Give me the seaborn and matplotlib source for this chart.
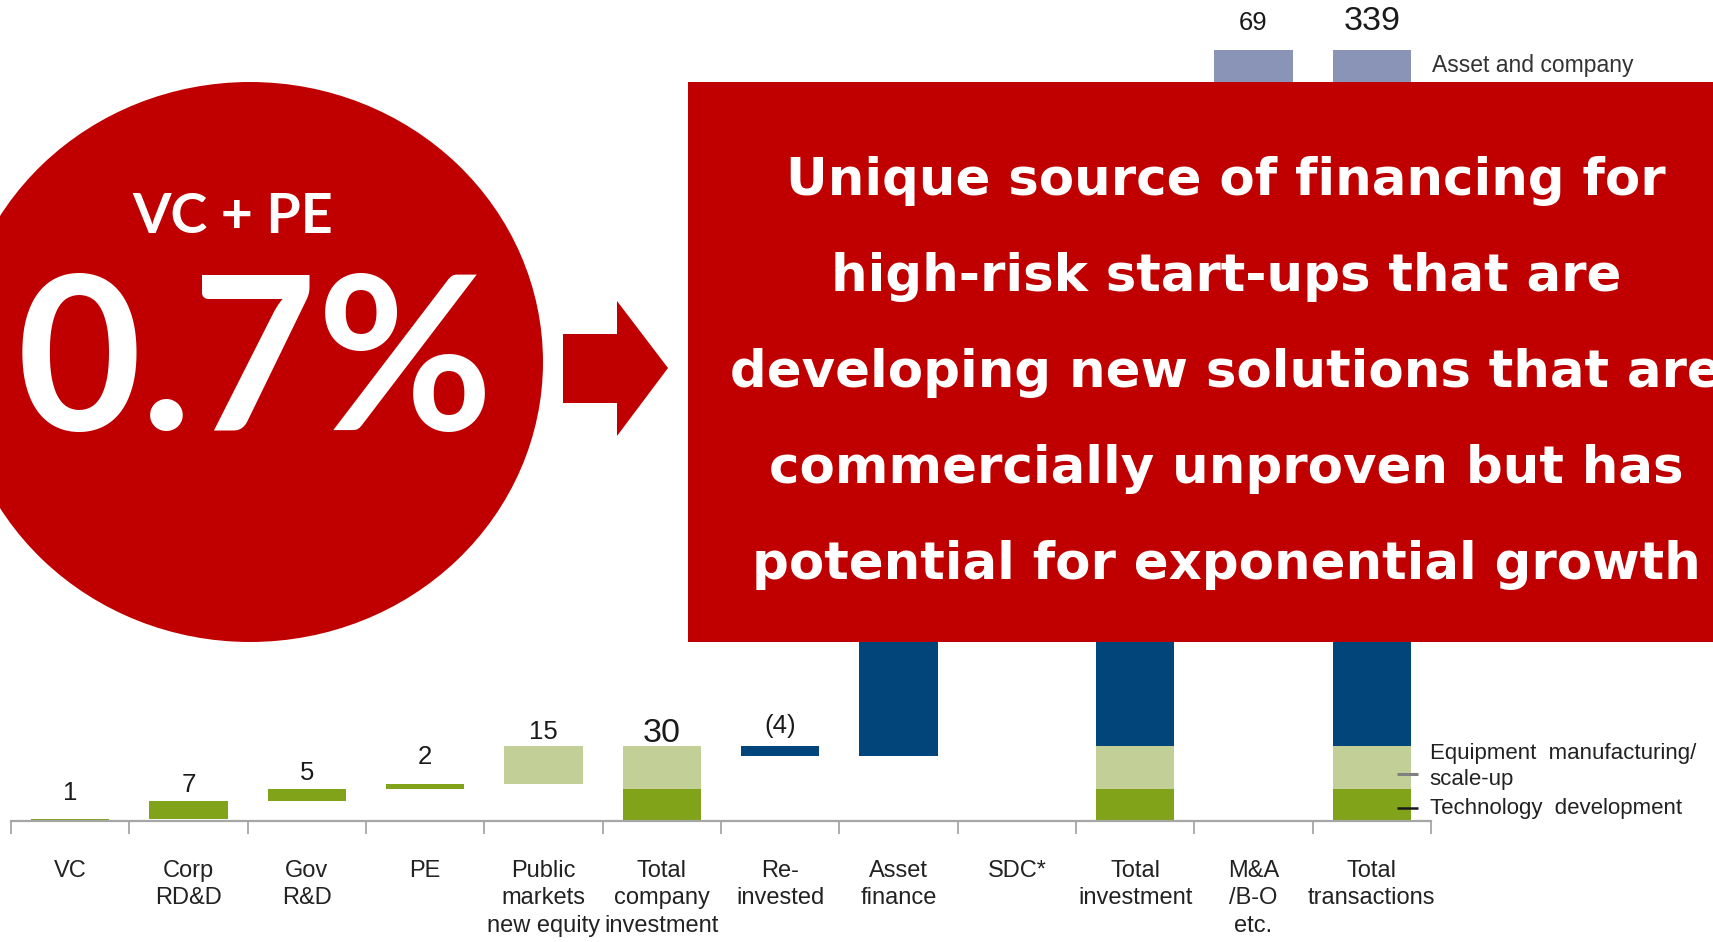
import numpy as np
import pandas as pd
import matplotlib
matplotlib.use("Agg")
import matplotlib.pyplot as plt
import seaborn as sns
from matplotlib.patches import Ellipse, Rectangle, Polygon

# ---- data ($bn) ----
categories = ["VC", "Corp\nRD&D", "Gov\nR&D", "PE", "Public\nmarkets\nnew equity",
              "Total\ncompany\ninvestment", "Re-\ninvested", "Asset\nfinance", "SDC*",
              "Total\ninvestment", "M&A\n/B-O\netc.", "Total\ntransactions"]
vc, corp_rdd, gov_rd, pe, public_markets = 1, 7, 5, 2, 15
reinvested = -4
asset_finance = 160
sdc = 84
mna = 69

tech_dev = vc + corp_rdd + gov_rd
scale_up = pe + public_markets
total_company = tech_dev + scale_up
total_investment = total_company + reinvested + asset_finance + sdc
total_transactions = total_investment + mna

value_labels = ["1", "7", "5", "2", "15", "30", "(4)", "", "", "", "69", "339"]

# ---- colours ----
C_GREEN = "#80A31A"
C_LIGHT = "#C2D097"
C_BLUE = "#01457A"
C_SLATE = "#8A94B6"
C_RED = "#C00000"

# floating / stacked segments: (category index, bottom, height, colour)
segments = [
    (0, 0, vc, C_GREEN),
    (1, vc, corp_rdd, C_GREEN),
    (2, vc + corp_rdd, gov_rd, C_GREEN),
    (3, tech_dev, pe, C_GREEN),
    (4, tech_dev + pe, public_markets, C_LIGHT),
    (5, 0, tech_dev, C_GREEN),
    (5, tech_dev, scale_up, C_LIGHT),
    (6, total_company + reinvested, -reinvested, C_BLUE),
    (7, total_company + reinvested, asset_finance, C_BLUE),
    (8, total_company + reinvested + asset_finance, sdc, C_BLUE),
    (9, 0, tech_dev, C_GREEN),
    (9, tech_dev, scale_up, C_LIGHT),
    (9, total_company, total_investment - total_company, C_BLUE),
    (10, total_investment, mna, C_SLATE),
    (11, 0, tech_dev, C_GREEN),
    (11, tech_dev, scale_up, C_LIGHT),
    (11, total_company, total_investment - total_company, C_BLUE),
    (11, total_investment, mna, C_SLATE),
]
seg = pd.DataFrame(segments, columns=["idx", "bottom", "height", "color"])
seg["category"] = [categories[i] for i in seg["idx"]]

# bar tops per category for the value labels
bar_top = (seg["bottom"] + seg["height"]).groupby(seg["idx"]).max().to_dict()

sns.set_theme(style="white")
plt.rcParams["font.family"] = ["Liberation Sans", "DejaVu Sans"]

W, H = 1713, 942
fig = plt.figure(figsize=(W / 100, H / 100), dpi=100)

PX_PER_UNIT = 2.5
x_left, x_right = 11 / W, 1431 / W
base_px = 821
# lower panel (main chart)
low_top_px = 300
ax = fig.add_axes([x_left, (H - base_px) / H, x_right - x_left, (base_px - low_top_px) / H])
# upper panel (broken-axis continuation)
up_bot_px = 200
up_top_val = total_transactions + 50 / PX_PER_UNIT
axt = fig.add_axes([x_left, (H - up_bot_px) / H, x_right - x_left, up_bot_px / H])

for a in (ax, axt):
    for col, d in seg.groupby("color", sort=False):
        d = d.sort_values("idx")
        sns.barplot(data=d, x="category", y="height", order=categories, color=col,
                    bottom=d["bottom"].to_numpy(), width=0.66, saturation=1,
                    errorbar=None, linewidth=0, ax=a)
    a.set_xlabel("")
    a.set_ylabel("")
    a.set_xlim(-0.5, len(categories) - 0.5)
    a.set_yticks([])
    a.patch.set_alpha(0)

ax.set_ylim(0, (base_px - low_top_px) / PX_PER_UNIT)
axt.set_ylim(up_top_val - up_bot_px / PX_PER_UNIT, up_top_val)

for s in ["top", "left", "right"]:
    ax.spines[s].set_visible(False)
ax.spines["bottom"].set_color("#A6A6A6")
ax.spines["bottom"].set_linewidth(1.6)
for s in axt.spines.values():
    s.set_visible(False)
axt.set_xticks([])

ax.set_xticks(range(len(categories)))
ax.set_xticklabels(categories, fontsize=17, color="#222222", linespacing=1.32)
ax.tick_params(axis="x", which="major", length=0, pad=28)
ax.set_xticks(np.arange(-0.5, len(categories), 1.0), minor=True)
ax.tick_params(axis="x", which="minor", length=9.5, width=1.3, color="#A6A6A6",
               direction="out", bottom=True)

# value labels (gap between bar top and text baseline, in pixels)
label_gap_px = [19, 9, 9, 19, 7, 4, 13, 8, 8, 8, 20, 20]
big = {"30", "339"}
for i, lab in enumerate(value_labels):
    if not lab:
        continue
    target = axt if i >= 10 else ax
    target.annotate(lab, xy=(i, bar_top[i]), xytext=(0, label_gap_px[i] * 0.72),
                    textcoords="offset points", ha="center", va="baseline",
                    fontsize=24.5 if lab in big else 18.5, color="#1a1a1a",
                    annotation_clip=False)

# segment captions on the right
ax.plot([11.215, 11.39], [tech_dev + scale_up / 2 - 2.5] * 2, color="#808080", lw=2.2,
        clip_on=False, solid_capstyle="butt")
ax.plot([11.215, 11.39], [tech_dev / 2 - 1.2] * 2, color="#1a1a1a", lw=1.8,
        clip_on=False, solid_capstyle="butt")
ax.text(11.49, tech_dev + scale_up / 2 + 0.3, "Equipment  manufacturing/\nscale-up", fontsize=16,
        color="#222222", ha="left", va="center", linespacing=1.25, clip_on=False)
ax.text(11.49, tech_dev / 2 - 1.6, "Technology  development", fontsize=16,
        color="#222222", ha="left", va="center", clip_on=False)
axt.text(11.51, total_transactions - 22 / PX_PER_UNIT, "Asset and company", fontsize=16.5,
         color="#333333", ha="left", va="baseline", clip_on=False)

# ---- call-out overlay (pixel coordinates) ----
ov = fig.add_axes([0, 0, 1, 1], zorder=10)
ov.set_xlim(0, W)
ov.set_ylim(H, 0)
ov.axis("off")
ov.patch.set_alpha(0)

ov.add_patch(Ellipse((250, 362), 586, 560, facecolor=C_RED, edgecolor="none"))
ov.add_patch(Polygon([(563, 334), (617, 334), (617, 301), (668, 368),
                      (617, 436), (617, 403), (563, 403)],
                     closed=True, facecolor=C_RED, edgecolor="none"))
ov.add_patch(Rectangle((688, 82), W - 688 + 10, 560, facecolor=C_RED, edgecolor="none"))

ov.text(233, 233, "VC + PE", fontsize=40, fontweight="bold", family="Lato",
        color="white", ha="center", va="baseline")
ov.text(255, 430, "0.7%", fontsize=155, fontweight="bold", family="Lato",
        color="white", ha="center", va="baseline")

box_lines = ["Unique source of financing for",
             "high-risk start-ups that are",
             "developing new solutions that are",
             "commercially unproven but has",
             "potential for exponential growth"]
for k, line in enumerate(box_lines):
    ov.text(1226, 195 + 96 * k, line, fontsize=37, fontweight="bold",
            family="DejaVu Sans", color="white", ha="center", va="baseline")

fig.savefig("out.png", dpi=100)
